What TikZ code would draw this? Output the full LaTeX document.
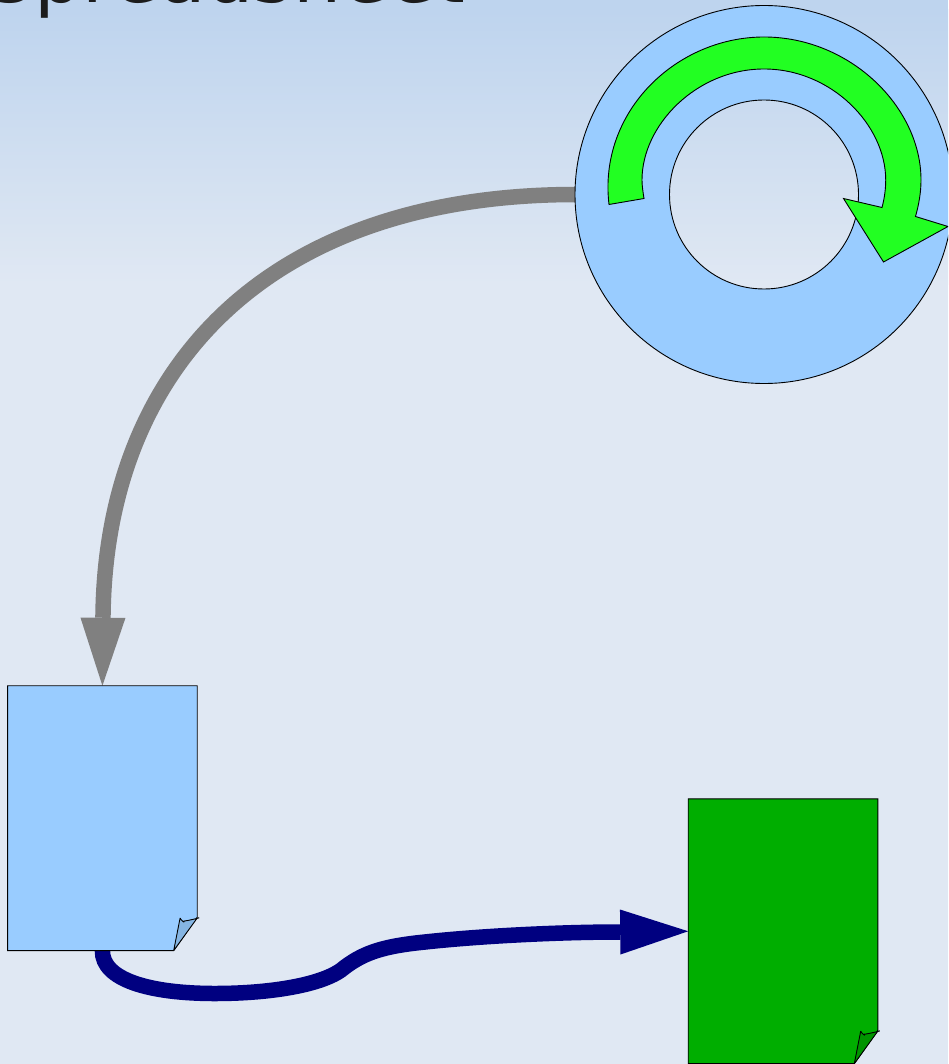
\documentclass[tikz,border=0pt]{standalone}
\usepackage{fontspec}
\setmainfont{DejaVu Sans}
\usetikzlibrary{arrows.meta,calc}

\definecolor{sheetblue}{HTML}{99CCFF}
\definecolor{flapblue}{HTML}{85B5E3}
\definecolor{sheetgreen}{HTML}{00AE00}
\definecolor{flapgreen}{HTML}{009400}
\definecolor{loopgreen}{HTML}{22FF22}
\definecolor{flownavy}{HTML}{000080}
\definecolor{bgtop}{HTML}{BED4EE}
\definecolor{bgbottom}{HTML}{E0E8F3}

\newcommand{\foldedsheet}[3]{
	\draw[outline, fill=#2] (#1.north west) -- (#1.north east) -- ++(0,231.5)
	-- ($(#1.south east)+(-23.5,0)$) -- (#1.south west) -- cycle;
	\draw[outline, line join=bevel, fill=#3] ($(#1.south east)+(-23.5,0)$) -- ++(6.4,-32.5)
	.. controls ++(0.8,2.2) and ++(2,3) .. ++(3.6,3)
	.. controls ++(3,0) and ++(8,-1.5) .. ($(#1.south east)+(0,-32.5)$) -- cycle;
}

\begin{document}
\begin{tikzpicture}[x=1pt, y=-1pt,
	outline/.style={draw=black, line width=0.9pt},
	sheet/.style={rectangle, minimum width=189.2pt, minimum height=264.4pt, inner sep=0pt},
	ring/.style={circle, minimum size=378pt, inner sep=0pt},
	flow/.style={line width=15.5pt, -{Triangle[length=68pt, width=45pt, line width=0pt]}}]
	\useasboundingbox (0,0) rectangle (948,1064);
	\clip (0,0) rectangle (948,1064);

	\fill[bgbottom] (0,0) rectangle (948,1064);
	\shade[top color=bgtop, bottom color=bgbottom] (0,10) rectangle (948,285);
	\fill[bgtop] (0,0) rectangle (948,10.5);

	\node[anchor=base west, inner sep=0pt, text=black!89, font=\fontsize{76pt}{76pt}\selectfont](title) at (-14,2.5){Spreadsheet};

	\node[ring](wheel) at (764,194.5){};
	\node[sheet](sheetA) at (102.4,818.15){};
	\node[sheet](sheetB) at (783,931.25){};

	\draw[flow, draw=gray] (wheel.west) .. controls (265,195) and (105,370) .. (sheetA.north);
	\draw[flow, draw=flownavy] (sheetA.south) .. controls (102,980) and (150,993.5) .. (215,993.5)
	.. controls (270,993.5) and (325,985) .. (345,967)
	.. controls (365,952) and (385,946) .. (425,942)
	.. controls (480,936) and (560,932) .. (620,932) -- (sheetB.west);

	\path[outline, fill=sheetblue, even odd rule] (wheel.center) circle[radius=189pt] (wheel.center) circle[radius=94.5pt];
	\draw[outline, fill=loopgreen] (609,204.5) .. controls (598,112) and (676,37) .. (764,37)
	.. controls (850,37) and (921,107) .. (921,180)
	.. controls (921,192) and (919,204) .. (915.5,216.5)
	-- (948,226.5) -- (883.5,262) -- (843.5,198.5) -- (882,207.5)
	.. controls (884.5,198) and (885.7,189) .. (885.7,180)
	.. controls (885.7,125) and (831.4,69) .. (764,69)
	.. controls (696.6,69) and (642,125) .. (642,180)
	.. controls (642,186) and (643,192) .. (644,198.5) -- cycle;

	\foldedsheet{sheetA}{sheetblue}{flapblue}
	\foldedsheet{sheetB}{sheetgreen}{flapgreen}
\end{tikzpicture}
\end{document}
